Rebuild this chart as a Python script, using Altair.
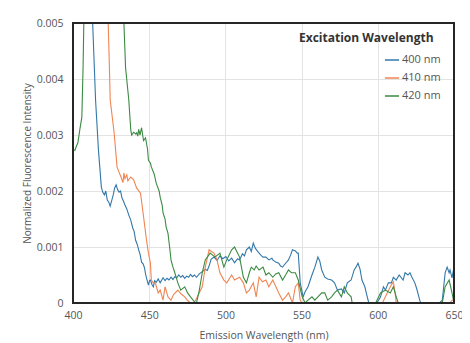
import altair as alt
import pandas as pd

# Excitation 400 nm
wl_400 = [410.0, 412.9, 414.8, 416.7, 418.6, 419.5, 420.6, 421.5, 422.5, 423.5, 424.4, 425.3, 426.4, 427.3,
          428.3, 429.2, 430.2, 431.2, 432.1, 433.1, 434.1, 435.3, 436.6, 437.9, 439.2, 440.1, 441.1, 442.1,
          443.1, 444.0, 445.0, 446.0, 446.9, 447.6, 448.2, 449.5, 450.2, 450.8, 451.8, 452.7, 453.6, 454.6,
          455.9, 457.2, 459.1, 460.4, 461.7, 463.0, 464.3, 465.6, 466.8, 468.1, 469.4, 470.7, 472.0, 473.3,
          474.6, 475.9, 477.1, 478.4, 479.7, 481.0, 482.9, 484.8, 486.8, 488.1, 489.3, 490.6, 492.5, 494.5,
          496.4, 498.3, 500.3, 502.2, 504.1, 506.0, 508.0, 509.3, 511.2, 512.5, 513.8, 515.7, 517.0, 518.3,
          519.6, 520.9, 522.1, 523.4, 524.7, 526.6, 528.5, 530.5, 531.1, 533.0, 535.0, 536.2, 537.5, 539.5,
          541.4, 542.7, 544.0, 545.9, 547.2, 547.8, 549.1, 551.0, 552.3, 554.2, 556.8, 558.7, 560.7, 561.9,
          563.2, 565.2, 567.1, 569.7, 571.6, 573.5, 576.1, 578.0, 580.0, 582.5, 584.5, 585.7, 587.0, 588.3,
          589.6, 591.5, 592.8, 594.1, 597.3, 599.2, 600.5, 601.8, 603.7, 605.0, 606.9, 608.9, 610.2, 612.1,
          614.0, 616.6, 617.9, 619.8, 621.1, 622.4, 624.3, 625.6, 627.5, 628.2, 640.4, 642.3, 644.2, 645.5,
          646.8, 647.4, 648.7, 650.0]
int_400 = [0.0056, 0.0050, 0.00363, 0.00273, 0.00207, 0.00198, 0.00193, 0.00200, 0.00184, 0.00180, 0.00173,
           0.00182, 0.00193, 0.00205, 0.00211, 0.00203, 0.00198, 0.00200, 0.00188, 0.00182, 0.00175, 0.00168,
           0.00157, 0.00148, 0.00134, 0.00128, 0.00112, 0.00105, 0.00095, 0.00087, 0.00073, 0.00070, 0.00063,
           0.00052, 0.00045, 0.00032, 0.00040, 0.00041, 0.00033, 0.00029, 0.00040, 0.00037, 0.00043, 0.00036,
           0.00045, 0.00040, 0.00044, 0.00041, 0.00046, 0.00042, 0.00047, 0.00045, 0.00050, 0.00046, 0.00049,
           0.00044, 0.00048, 0.00046, 0.00051, 0.00047, 0.00050, 0.00046, 0.00052, 0.00056, 0.00060, 0.00058,
           0.00066, 0.00078, 0.00082, 0.00076, 0.00084, 0.00079, 0.00083, 0.00075, 0.00080, 0.00072, 0.00079,
           0.00077, 0.00088, 0.00084, 0.00095, 0.00100, 0.00092, 0.00107, 0.00098, 0.00093, 0.00089, 0.00085,
           0.00082, 0.00082, 0.00077, 0.00080, 0.00077, 0.00073, 0.00071, 0.00066, 0.00064, 0.00071, 0.00077,
           0.00085, 0.00095, 0.00093, 0.00089, 0.00089, 0.00036, 0.00011, 0.00020, 0.00029, 0.00050, 0.00064,
           0.00082, 0.00075, 0.00059, 0.00046, 0.00043, 0.00041, 0.00036, 0.00023, 0.00025, 0.00018, 0.00036,
           0.00041, 0.00059, 0.00064, 0.00071, 0.00061, 0.00041, 0.00029, 0.00014, 0.0, 0.0, 0.0, 0.00005,
           0.00011, 0.00029, 0.00023, 0.00036, 0.00036, 0.00046, 0.00041, 0.00050, 0.00041, 0.00054, 0.00050,
           0.00054, 0.00046, 0.00036, 0.00025, 0.00005, 0.0, 0.0, 0.00005, 0.00054, 0.00064, 0.00054, 0.00059,
           0.00045, 0.00064]

# Excitation 410 nm
wl_410 = [421.0, 423.1, 423.8, 424.4, 427.0, 428.9, 430.0, 431.5, 432.8, 433.4, 434.1, 435.3, 436.0, 437.9,
          439.8, 441.8, 444.3, 446.3, 448.2, 449.5, 450.8, 451.4, 452.7, 454.0, 455.9, 457.2, 459.1, 460.4,
          462.3, 464.3, 466.0, 468.8, 471.0, 473.3, 475.0, 477.1, 479.5, 481.6, 484.8, 486.8, 489.3, 490.8,
          492.5, 494.5, 496.4, 499.0, 500.9, 504.1, 506.0, 509.3, 511.8, 513.8, 515.7, 518.3, 520.2, 522.1,
          524.3, 526.6, 528.5, 531.1, 533.0, 535.0, 537.5, 539.5, 541.4, 544.0, 545.9, 547.8, 549.1, 550.4,
          603.0, 605.0, 608.2, 610.2, 611.4, 612.1, 647.4, 648.7, 650.0]
int_410 = [0.0056, 0.0050, 0.00430, 0.00363, 0.00304, 0.00243, 0.00235, 0.00225, 0.00215, 0.00232, 0.00222,
           0.00229, 0.00218, 0.00225, 0.00220, 0.00205, 0.00196, 0.00154, 0.00113, 0.00089, 0.00071, 0.00041,
           0.00036, 0.00036, 0.00018, 0.00023, 0.00005, 0.00029, 0.00011, 0.00005, 0.00015, 0.00023, 0.00016,
           0.00011, 0.00005, 0.0, 0.0, 0.00011, 0.00029, 0.00064, 0.00095, 0.00092, 0.00089, 0.00077, 0.00054,
           0.00041, 0.00036, 0.00050, 0.00041, 0.00046, 0.00036, 0.00018, 0.00023, 0.00036, 0.00011, 0.00046,
           0.00038, 0.00041, 0.00029, 0.00041, 0.00030, 0.00018, 0.00005, 0.00011, 0.00018, 0.0, 0.00029,
           0.00036, 0.00005, 0.0, 0.0, 0.00011, 0.00029, 0.00038, 0.00018, 0.0, 0.0, 0.00005, 0.00005]

# Excitation 420 nm
wl_420 = [400.0, 400.6, 401.3, 402.2, 403.2, 404.5, 405.8, 406.6, 407.1, 408.0, 432.0, 433.4, 434.5, 436.6,
          437.9, 438.5, 439.8, 441.1, 441.8, 442.5, 443.1, 444.0, 445.0, 445.7, 446.3, 447.6, 448.9, 449.5,
          450.8, 451.4, 453.3, 454.6, 456.5, 457.2, 458.5, 459.1, 460.4, 461.1, 462.3, 463.6, 464.3, 465.6,
          466.8, 468.8, 470.7, 473.3, 475.2, 477.1, 480.3, 481.0, 482.9, 484.8, 486.8, 490.0, 493.2, 496.4,
          499.0, 500.9, 504.1, 506.0, 509.3, 511.8, 513.8, 515.7, 517.0, 518.9, 520.2, 522.1, 524.7, 526.6,
          528.5, 531.1, 533.0, 535.0, 537.5, 539.5, 541.4, 543.3, 545.9, 547.8, 550.4, 552.3, 554.2, 556.8,
          558.7, 560.7, 563.2, 565.2, 567.1, 569.7, 571.6, 573.5, 576.1, 578.0, 580.0, 582.5, 583.2, 598.6,
          601.8, 605.0, 608.2, 610.2, 612.1, 613.4, 642.3, 644.2, 646.8, 648.7, 650.0]
int_420 = [0.00270, 0.00273, 0.00273, 0.00280, 0.00286, 0.00310, 0.00332, 0.0042, 0.0050, 0.0056, 0.0056,
           0.0050, 0.0042, 0.00363, 0.00309, 0.00300, 0.00305, 0.00302, 0.00304, 0.00298, 0.00310, 0.00300,
           0.00313, 0.00300, 0.00290, 0.00295, 0.00275, 0.00255, 0.00250, 0.00243, 0.00230, 0.00214, 0.00200,
           0.00189, 0.00175, 0.00161, 0.00150, 0.00136, 0.00125, 0.00095, 0.00077, 0.00064, 0.00054, 0.00036,
           0.00023, 0.00029, 0.00018, 0.00011, 0.0, 0.0, 0.00023, 0.00054, 0.00077, 0.00089, 0.00082, 0.00089,
           0.00064, 0.00077, 0.00095, 0.00100, 0.00082, 0.00046, 0.00036, 0.00054, 0.00064, 0.00059, 0.00066,
           0.00059, 0.00064, 0.00050, 0.00054, 0.00046, 0.00052, 0.00054, 0.00041, 0.00050, 0.00059, 0.00054,
           0.00054, 0.00041, 0.00011, 0.0, 0.00005, 0.00011, 0.00005, 0.00011, 0.00018, 0.00018, 0.00005,
           0.00011, 0.00018, 0.00023, 0.00011, 0.00029, 0.00018, 0.00011, 0.0, 0.0, 0.00018, 0.00023, 0.00018,
           0.00029, 0.00011, 0.0, 0.0, 0.00029, 0.00041, 0.00018, 0.0]

series_names = ["400 nm", "410 nm", "420 nm"]
series_colors = ["#3378a8", "#f08552", "#3b8a42"]
x_ticks = [400, 450, 500, 550, 600, 650]
y_ticks = [0, 0.001, 0.002, 0.003, 0.004, 0.005]
x_domain = [400, 650]
y_domain = [0, 0.005]

rows = []
for name, wl, val in zip(series_names, [wl_400, wl_410, wl_420], [int_400, int_410, int_420]):
    for i, (w, v) in enumerate(zip(wl, val)):
        rows.append({"wl": w, "val": v, "series": name, "order": i})
df = pd.DataFrame(rows)

FONT = "Open Sans"
W, H = 381, 280

lines = alt.Chart(df).mark_line(clip=True, strokeWidth=1.1).encode(
    x=alt.X("wl:Q", scale=alt.Scale(domain=x_domain, nice=False, zero=False),
            axis=alt.Axis(values=x_ticks, title="Emission Wavelength (nm)", grid=True, ticks=False,
                          domain=False, labelFlush=False, labelPadding=7, titlePadding=10,
                          labelFontSize=10.5, titleFontSize=10.5, labelColor="#555555",
                          titleColor="#555555", labelFont=FONT, titleFont=FONT,
                          titleFontWeight="normal", gridColor="#e3e3e3")),
    y=alt.Y("val:Q", scale=alt.Scale(domain=y_domain, nice=False),
            axis=alt.Axis(values=y_ticks, title="Normalized Fluorescence Intensity", grid=True,
                          ticks=False, domain=False, labelFlush=False, labelPadding=10, titlePadding=4,
                          labelExpr="datum.value == 0 ? '0' : format(datum.value, '.3f')",
                          labelFontSize=10.5, titleFontSize=10, labelColor="#555555",
                          titleColor="#555555", labelFont=FONT, titleFont=FONT,
                          titleFontWeight="normal", gridColor="#e3e3e3")),
    color=alt.Color("series:N", scale=alt.Scale(domain=series_names, range=series_colors),
                    legend=alt.Legend(title="Excitation Wavelength", orient="none", legendX=226,
                                      legendY=10, symbolType="stroke", symbolSize=200,
                                      symbolStrokeWidth=1.5, symbolOffset=85, labelOffset=2,
                                      titleFont=FONT, labelFont=FONT, titleFontSize=12,
                                      labelFontSize=11, titleColor="#333333", labelColor="#555555",
                                      titlePadding=7, rowPadding=5, padding=0)),
    order="order:Q",
)

# plot frame drawn as four thin filled bars (decoration only)
one = pd.DataFrame({"k": [0]})


def bar(x1, x2, y1, y2):
    return alt.Chart(one).mark_rect(color="#262626", opacity=1, clip=False).encode(
        x=alt.value(x1), x2=alt.value(x2), y=alt.value(y1), y2=alt.value(y2))


frame = [bar(-1, W + 1, -1, 1), bar(-1, W + 1, H - 1, H + 1),
         bar(-1, 1, -1, H + 1), bar(W - 1, W + 1, -1, H + 1)]

chart = alt.layer(lines, *frame).properties(
    width=W, height=H,
    background="white",
    padding={"left": 65, "top": 15, "right": 8, "bottom": 40},
    autosize=alt.AutoSizeParams(type="none"),
).configure_view(stroke="#262626", strokeWidth=2)

chart.save("out.html", embed_options={"renderer": "svg", "actions": False})
